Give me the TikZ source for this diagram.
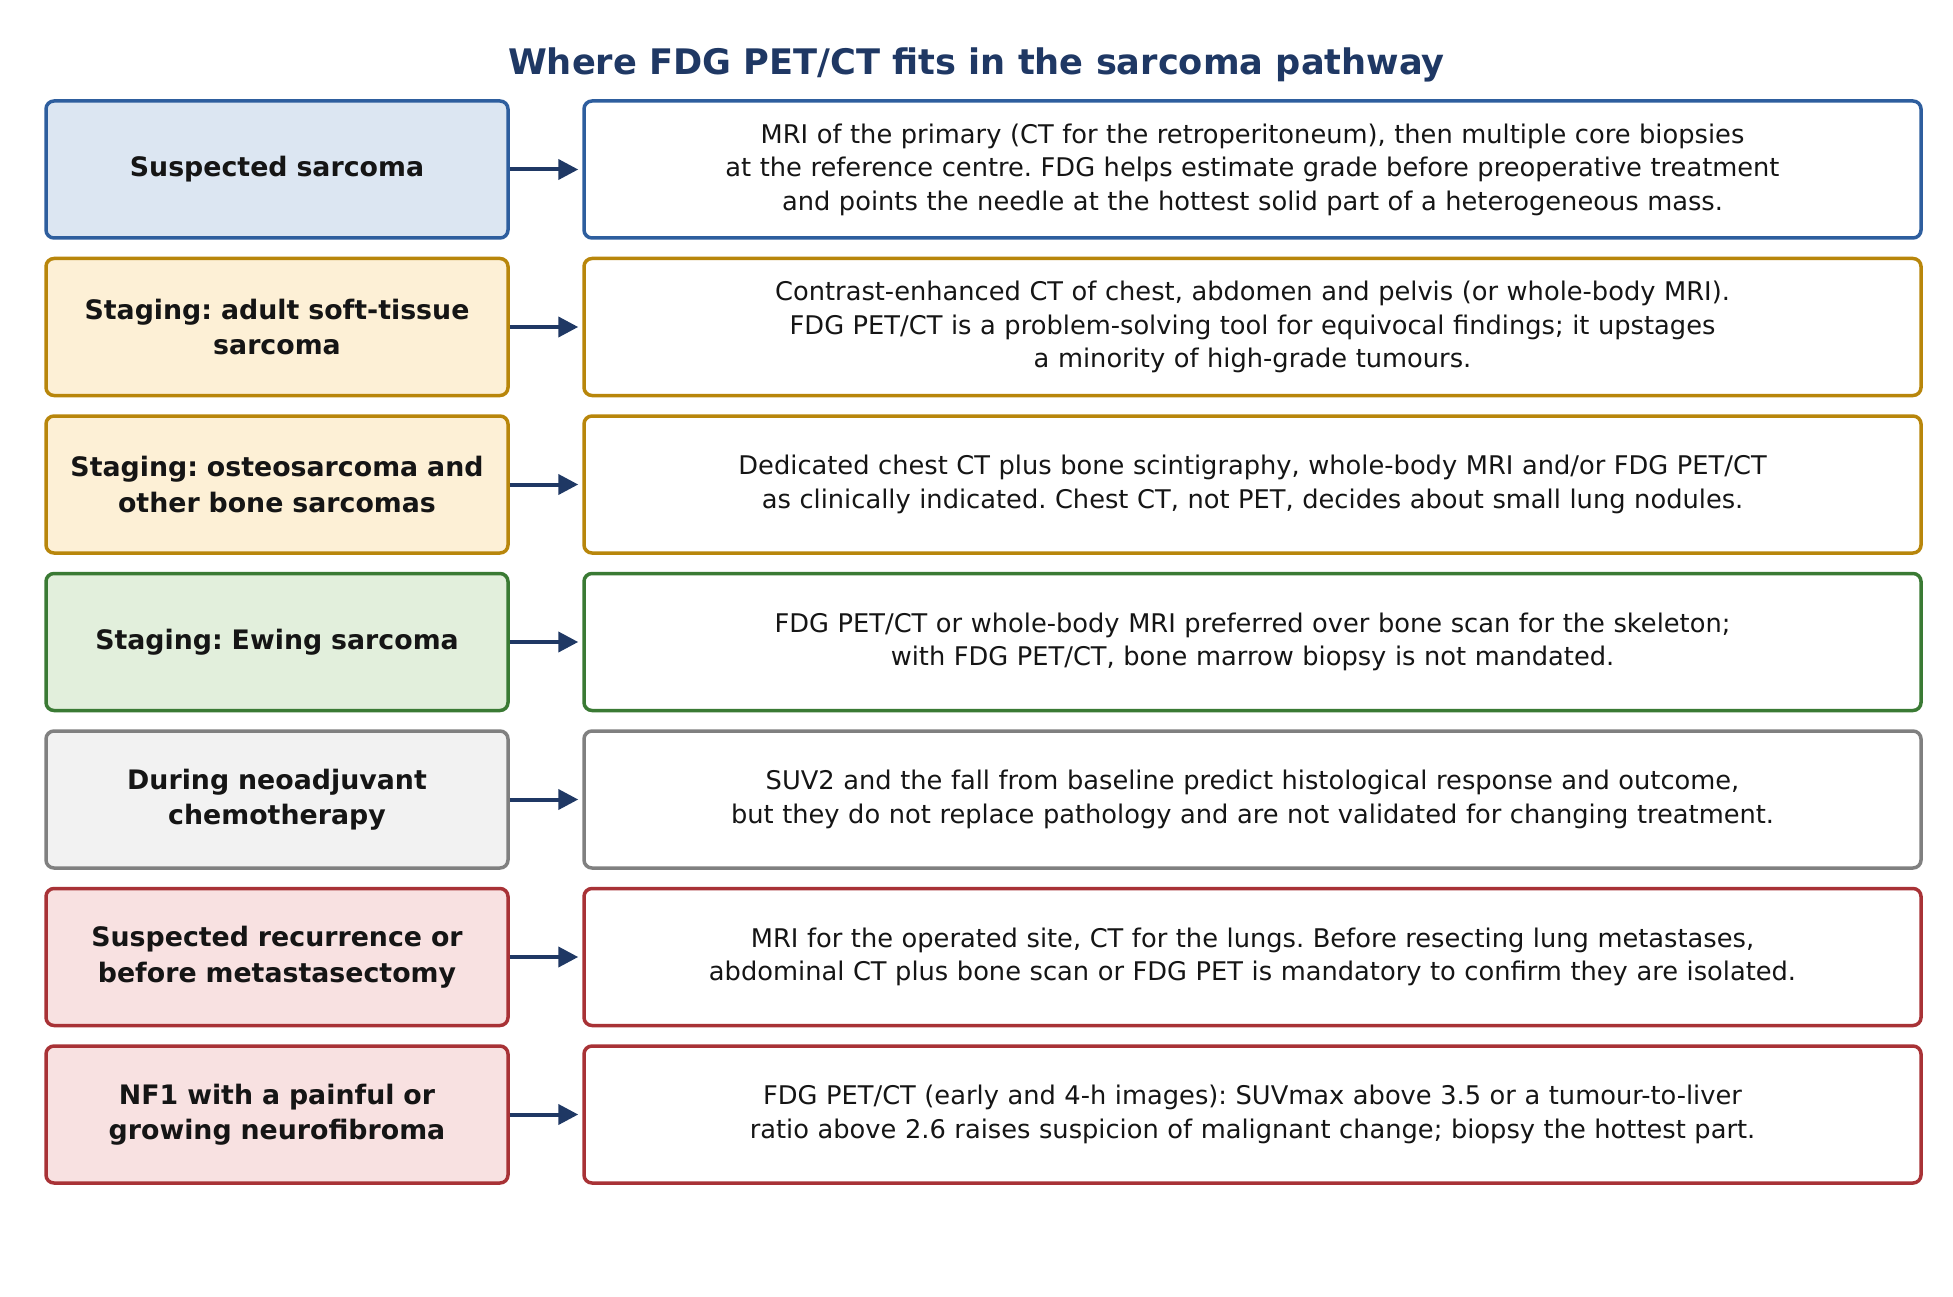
\documentclass[tikz,border=0pt]{standalone}
\usepackage{fontspec}
\setmainfont{DejaVu Sans}
\usetikzlibrary{arrows.meta}
\frenchspacing
\definecolor{titlecol}{HTML}{1F3864}
\definecolor{arrcol}{HTML}{1F3864}
\definecolor{txtcol}{HTML}{151515}
\definecolor{bB}{HTML}{2E5E9E}\definecolor{bF}{HTML}{DCE6F2}
\definecolor{oB}{HTML}{B8860B}\definecolor{oF}{HTML}{FDF0D6}
\definecolor{gB}{HTML}{3A7A34}\definecolor{gF}{HTML}{E2EFDC}
\definecolor{yB}{HTML}{808080}\definecolor{yF}{HTML}{F2F2F2}
\definecolor{rB}{HTML}{A83236}\definecolor{rF}{HTML}{F8E1E1}
\tikzset{
  boxbase/.style={rectangle, rounded corners=8pt, line width=3.5pt, inner sep=0pt, align=center, text=txtcol},
  lbox/.style={boxbase, minimum width=462pt, minimum height=137pt, text width=450pt,
     font=\fontsize{26.8pt}{35.5pt}\selectfont\bfseries},
  rbox/.style={boxbase, fill=white, minimum width=1337pt, minimum height=137pt, text width=1330pt,
     font=\fontsize{25.7pt}{33.5pt}\selectfont},
  arr/.style={draw=arrcol, line width=4pt, -{Triangle[length=20pt,width=20pt]}},
}
\begin{document}
\begin{tikzpicture}[x=1pt,y=-1pt]
\useasboundingbox (0,0) rectangle (1953,1297);
\node[anchor=base, text=titlecol, font=\fontsize{35.2pt}{40pt}\selectfont\bfseries] (title) at (976.5,75) {Where FDG PET/CT fits in the sarcoma pathway};
% row 1
\node[lbox, draw=bB, fill=bF] (L1) at (277,169.5) {Suspected sarcoma};
\node[rbox, draw=bB] (R1) at (1252.5,169.5) {MRI of the primary (CT for the retroperitoneum), then multiple core biopsies\\at the reference centre. FDG helps estimate grade before preoperative treatment\\and points the needle at the hottest solid part of a heterogeneous mass.};
% row 2
\node[lbox, draw=oB, fill=oF] (L2) at (277,327) {Staging: adult soft-tissue\\sarcoma};
\node[rbox, draw=oB] (R2) at (1252.5,327) {Contrast-enhanced CT of chest, abdomen and pelvis (or whole-body MRI).\\FDG PET/CT is a problem-solving tool for equivocal findings; it upstages\\a minority of high-grade tumours.};
% row 3
\node[lbox, draw=oB, fill=oF] (L3) at (277,484.5) {Staging: osteosarcoma and\\other bone sarcomas};
\node[rbox, draw=oB] (R3) at (1252.5,484.5) {Dedicated chest CT plus bone scintigraphy, whole-body MRI and/or FDG PET/CT\\as clinically indicated. Chest CT, not PET, decides about small lung nodules.};
% row 4
\node[lbox, draw=gB, fill=gF] (L4) at (277,642) {Staging: Ewing sarcoma};
\node[rbox, draw=gB] (R4) at (1252.5,642) {FDG PET/CT or whole-body MRI preferred over bone scan for the skeleton;\\with FDG PET/CT, bone marrow biopsy is not mandated.};
% row 5
\node[lbox, draw=yB, fill=yF] (L5) at (277,799.5) {During neoadjuvant\\chemotherapy};
\node[rbox, draw=yB] (R5) at (1252.5,799.5) {SUV2 and the fall from baseline predict histological response and outcome,\\but they do not replace pathology and are not validated for changing treatment.};
% row 6
\node[lbox, draw=rB, fill=rF] (L6) at (277,957) {Suspected recurrence or\\before metastasectomy};
\node[rbox, draw=rB] (R6) at (1252.5,957) {MRI for the operated site, CT for the lungs. Before resecting lung metastases,\\abdominal CT plus bone scan or FDG PET is mandatory to confirm they are isolated.};
% row 7
\node[lbox, draw=rB, fill=rF] (L7) at (277,1114.5) {NF1 with a painful or\\growing neurofibroma};
\node[rbox, draw=rB] (R7) at (1252.5,1114.5) {FDG PET/CT (early and 4-h images): SUVmax above 3.5 or a tumour-to-liver\\ratio above 2.6 raises suspicion of malignant change; biopsy the hottest part.};
% arrows
\foreach \i in {1,...,7}{
  \draw[arr] (L\i.east) -- ([xshift=-4pt]R\i.west);
}
\end{tikzpicture}
\end{document}
